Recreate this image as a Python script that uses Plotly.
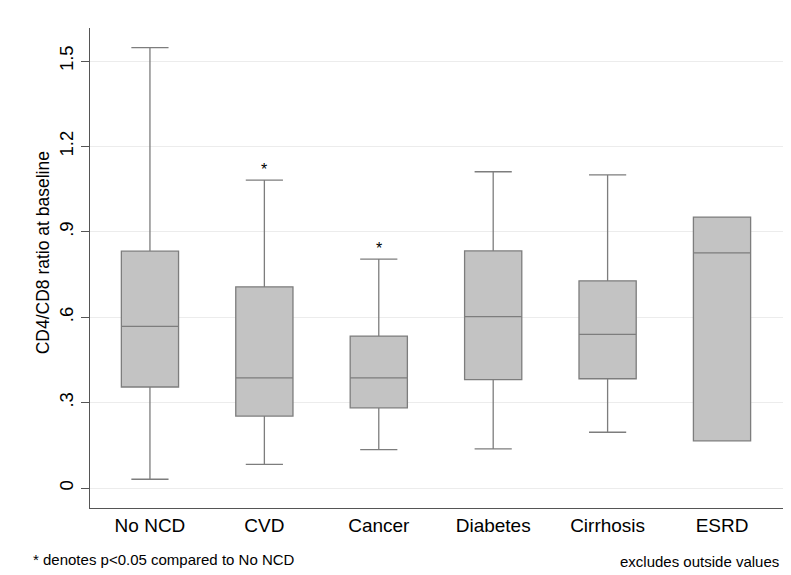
import plotly.graph_objects as go

categories = ["No NCD", "CVD", "Cancer", "Diabetes", "Cirrhosis", "ESRD"]
lower_whisker = [0.031, 0.083, 0.135, 0.138, 0.196, 0.166]
q1 = [0.355, 0.253, 0.282, 0.381, 0.384, 0.166]
median = [0.568, 0.387, 0.387, 0.602, 0.540, 0.826]
q3 = [0.832, 0.707, 0.534, 0.833, 0.728, 0.952]
upper_whisker = [1.547, 1.082, 0.804, 1.111, 1.100, 0.952]
significant = [False, True, True, False, False, False]

tick_vals = [0, 0.3, 0.6, 0.9, 1.2, 1.5]
tick_text = ["0", ".3", ".6", ".9", "1.2", "1.5"]

FONT = "Liberation Sans, Arial, Helvetica, sans-serif"

fig = go.Figure()
fig.add_trace(go.Box(
    x=categories,
    lowerfence=lower_whisker,
    q1=q1,
    median=median,
    q3=q3,
    upperfence=upper_whisker,
    width=0.5,
    whiskerwidth=0.65,
    fillcolor="#c3c3c3",
    line=dict(color="#7d7d7d", width=1.3),
    boxpoints=False,
    hoverinfo="skip",
    showlegend=False,
))

for cat, up, sig in zip(categories, upper_whisker, significant):
    if sig:
        fig.add_annotation(x=cat, y=up, text="*", showarrow=False,
                           yshift=11, font=dict(family=FONT, size=16, color="black"))

# y-axis title
fig.add_annotation(x=-0.0675, y=0.531, xref="paper", yref="paper",
                   xanchor="center", yanchor="middle", textangle=-90,
                   text="CD4/CD8 ratio at baseline", showarrow=False,
                   font=dict(family=FONT, size=17.5, color="black"))

fig.add_annotation(x=-0.0857, y=-0.108, xref="paper", yref="paper", xanchor="left", yanchor="middle",
                   text="* denotes p&lt;0.05 compared to No NCD", showarrow=False,
                   font=dict(family=FONT, size=15, color="black"))
fig.add_annotation(x=0.997, y=-0.111, xref="paper", yref="paper", xanchor="right", yanchor="middle",
                   text="excludes outside values", showarrow=False,
                   font=dict(family=FONT, size=15, color="black"))

fig.update_layout(
    width=791, height=575,
    margin=dict(l=90, r=8, t=28, b=67, autoexpand=False),
    paper_bgcolor="white",
    plot_bgcolor="white",
    font=dict(family=FONT, color="black"),
    xaxis=dict(
        type="category",
        range=[-0.524, 5.533],
        automargin=False,
        showline=True, linecolor="#555555", linewidth=1.3,
        ticks="", showgrid=False, zeroline=False,
        tickfont=dict(family=FONT, size=19, color="black"),
    ),
    yaxis=dict(
        range=[-0.070, 1.616],
        automargin=False,
        tickvals=tick_vals, ticktext=tick_text,
        tickangle=-90,
        showline=True, linecolor="#555555", linewidth=1.3,
        ticks="outside", ticklen=8, tickcolor="#555555", tickwidth=1.3,
        showgrid=True, gridcolor="#ececec", gridwidth=1.3,
        zeroline=False,
        tickfont=dict(family=FONT, size=18.5, color="black"),
    ),
)

fig.write_html(
    "out.html",
    config={"displayModeBar": False},
    post_script="document.body.style.margin='0';document.body.style.overflow='hidden';",
)
